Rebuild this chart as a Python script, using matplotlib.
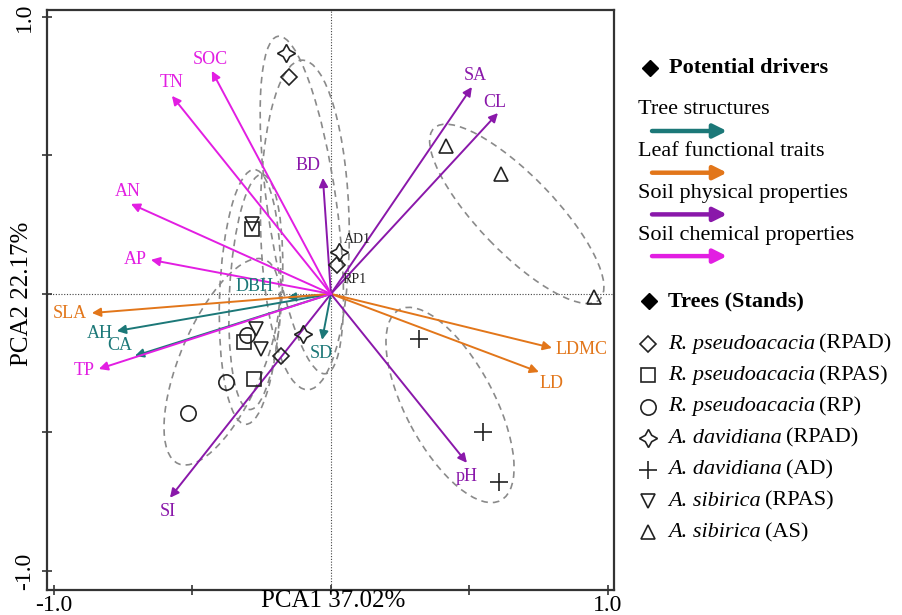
import numpy as np
import matplotlib
matplotlib.use("Agg")
import matplotlib.pyplot as plt
from matplotlib.patches import Ellipse

plt.rcParams["font.family"] = ["Liberation Serif", "DejaVu Serif"]

# Driver loadings on PCA1 / PCA2
driver_names = ["DBH", "AH", "CA", "SD", "SLA", "LDMC", "LD",
                "BD", "SA", "CL", "SI", "pH", "SOC", "TN", "AN", "AP", "TP"]
driver_pc1 = [-0.159, -0.773, -0.708, -0.032, -0.863, 0.798, 0.751,
              -0.029, 0.509, 0.603, -0.581, 0.491, -0.430, -0.574, -0.722, -0.650, -0.838]
driver_pc2 = [-0.014, -0.134, -0.224, -0.166, -0.069, -0.195, -0.282,
              0.419, 0.747, 0.653, -0.736, -0.610, 0.805, 0.715, 0.325, 0.123, -0.271]
driver_group = ["tree", "tree", "tree", "tree", "leaf", "leaf", "leaf",
                "phys", "phys", "phys", "phys", "phys", "chem", "chem", "chem", "chem", "chem"]

# Stand scores
stand_groups = ["RPAD_rp", "RPAS_rp", "RP", "RPAD_ad", "AD", "RPAS_as", "AS"]
stand_pc1 = {
    "RPAD_rp": [-0.152, 0.022, -0.181],
    "RPAS_rp": [-0.285, -0.314, -0.278],
    "RP": [-0.303, -0.379, -0.516],
    "RPAD_ad": [-0.162, 0.029, -0.101],
    "AD": [0.318, 0.549, 0.606],
    "RPAS_as": [-0.285, -0.271, -0.253],
    "AS": [0.415, 0.614, 0.949],
}
stand_pc2 = {
    "RPAD_rp": [0.783, 0.105, -0.224],
    "RPAS_rp": [0.235, -0.173, -0.307],
    "RP": [-0.148, -0.318, -0.430],
    "RPAD_ad": [0.870, 0.152, -0.144],
    "AD": [-0.162, -0.498, -0.679],
    "RPAS_as": [0.253, -0.126, -0.199],
    "AS": [0.534, 0.433, -0.011],
}
stand_species = ["R. pseudoacacia", "R. pseudoacacia", "R. pseudoacacia",
                 "A. davidiana", "A. davidiana", "A. sibirica", "A. sibirica"]
stand_codes = ["(RPAD)", "(RPAS)", "(RP)", "(RPAD)", "(AD)", "(RPAS)", "(AS)"]

# group ellipses: centre, width, height, angle (data units)
ell_cx = [-0.094, -0.292, -0.394, -0.105, 0.430, -0.271, 0.671]
ell_cy = [0.249, -0.011, -0.245, 0.321, -0.401, 0.007, 0.289]
ell_w = [1.19, 0.92, 0.80, 1.23, 0.78, 0.85, 0.86]
ell_h = [0.32, 0.22, 0.30, 0.25, 0.32, 0.19, 0.275]
ell_angle = [91, 88, 67, -82, -62, 87, -46]

point_labels = ["AD1", "RP1"]
point_label_x = [0.097, 0.087]
point_label_y = [0.195, 0.051]

colors = {"tree": "#1c7878", "leaf": "#e2761a", "phys": "#8a18aa", "chem": "#e21ee2"}
legend_names = {"tree": "Tree structures", "leaf": "Leaf functional traits",
                "phys": "Soil physical properties", "chem": "Soil chemical properties"}
markers = {"RPAD_rp": "D", "RPAS_rp": "s", "RP": "o", "RPAD_ad": (4, 1, 0),
           "AD": "+", "RPAS_as": "v", "AS": "^"}
msizes = {"RPAD_rp": 8, "RPAS_rp": 10, "RP": 11, "RPAD_ad": 13,
          "AD": 13, "RPAS_as": 10, "AS": 10}

# label offsets from arrow tip, in pixels
label_off = {"DBH": (-32, 11), "AH": (-17, -2), "CA": (-15, 10), "SD": (-1, -14),
             "SLA": (-22, 0), "LDMC": (30, -2), "LD": (13, -11), "BD": (-15, 12),
             "SA": (3, 12), "CL": (-3, 11), "SI": (-2, -14), "pH": (0, -14),
             "SOC": (-1, 11), "TN": (0, 13), "AN": (-3, 12), "AP": (-16, 0), "TP": (-15, -2)}

W, H = 903, 615
fig = plt.figure(figsize=(W / 100, H / 100), dpi=100)
ax = fig.add_axes([47 / W, 1 - 590 / H, (614 - 47) / W, (590 - 10) / H])
ax.set_xlim(-1.025, 1.022)
ax.set_ylim(-1.069, 1.025)

ax.axhline(0, color="#444444", lw=0.8, ls=(0, (1, 1.5)), zorder=1)
ax.axvline(0, color="#444444", lw=0.8, ls=(0, (1, 1.5)), zorder=1)

for cx, cy, w, h, a in zip(ell_cx, ell_cy, ell_w, ell_h, ell_angle):
    ax.add_patch(Ellipse((cx, cy), w, h, angle=a, fill=False, ec="#8a8a8a",
                         lw=1.2, ls=(0, (4, 3)), zorder=2))

for name, x, y, g in zip(driver_names, driver_pc1, driver_pc2, driver_group):
    c = colors[g]
    ax.annotate("", xy=(x, y), xytext=(0, 0),
                arrowprops=dict(arrowstyle="-|>", color=c, lw=1.4,
                                mutation_scale=13, shrinkA=0, shrinkB=0),
                zorder=4)
    dx, dy = label_off[name]
    ax.annotate(name, xy=(x, y), xytext=(dx, dy), textcoords="offset pixels",
                ha="center", va="center", color=c, fontsize=13, zorder=5)

for g in stand_groups:
    m = markers[g]
    if m == "+":
        ax.plot(stand_pc1[g], stand_pc2[g], ls="none", marker=m, ms=msizes[g],
                mec="#222222", mew=1.2, zorder=6)
    else:
        ax.plot(stand_pc1[g], stand_pc2[g], ls="none", marker=m, ms=msizes[g],
                mfc="none", mec="#222222", mew=1.2, zorder=6)

for t, x, y in zip(point_labels, point_label_x, point_label_y):
    ax.text(x, y, t, fontsize=10, color="#222222", ha="center", va="center", zorder=6)

ax.set_xticks([-1, -0.5, 0, 0.5, 1])
ax.set_yticks([-1, -0.5, 0, 0.5, 1])
ax.set_xticklabels(["-1.0", "", "", "", "1.0"], fontsize=17)
ax.set_yticklabels(["-1.0", "", "", "", "1.0"], fontsize=17, rotation=90, va="center")
ax.tick_params(direction="inout", length=7, width=1.2, colors="#333333", labelcolor="black")
ax.tick_params(axis="x", pad=0)
ax.tick_params(axis="y", pad=5)
for s in ax.spines.values():
    s.set_linewidth(1.6)
    s.set_color("#333333")

fig.text(333 / W, 1 - 601 / H, "PCA1 37.02%", fontsize=18, ha="center", va="center")
fig.text(22 / W, 1 - 294 / H, "PCA2 22.17%", fontsize=18, ha="center", va="center", rotation=90)

# legend panel in pixel coordinates
lax = fig.add_axes([0, 0, 1, 1])
lax.set_xlim(0, W)
lax.set_ylim(H, 0)
lax.axis("off")

lax.plot([650], [68], marker="D", ms=8, color="black")
lax.text(669, 68, "Potential drivers", fontsize=16, fontweight="bold", va="center")
for i, g in enumerate(["tree", "leaf", "phys", "chem"]):
    ty = 110 + i * 41.7
    lax.text(638, ty, legend_names[g], fontsize=16, va="center")
    lax.annotate("", xy=(727, ty + 21), xytext=(652, ty + 21),
                 arrowprops=dict(arrowstyle="-|>", color=colors[g], lw=3.2,
                                 mutation_scale=20, shrinkA=0, shrinkB=0))

lax.plot([649], [301], marker="D", ms=8, color="black")
lax.text(668, 301, "Trees (Stands)", fontsize=16, fontweight="bold", va="center")

fig.canvas.draw()
renderer = fig.canvas.get_renderer()
for i, g in enumerate(stand_groups):
    ty = 344 + i * 31.4
    m = markers[g]
    if m == "+":
        lax.plot([648], [ty], marker=m, ms=msizes[g], mec="#222222", mew=1.2, ls="none")
    else:
        lax.plot([648], [ty], marker=m, ms=msizes[g], mfc="none", mec="#222222", mew=1.2, ls="none")
    t1 = lax.text(668, ty, stand_species[i], fontsize=16, style="italic", va="center")
    bb = t1.get_window_extent(renderer)
    lax.text(668 + bb.width + 4, ty, stand_codes[i], fontsize=16, va="center")

fig.savefig("out.png", dpi=100)
